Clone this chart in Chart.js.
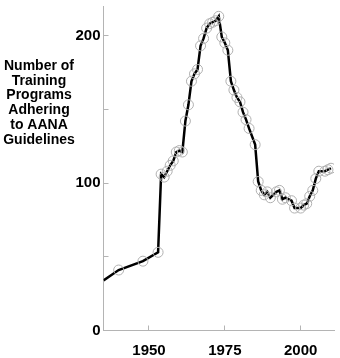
<!DOCTYPE html>
<html>
<head>
<meta charset="utf-8">
<script src="https://cdn.jsdelivr.net/npm/chart.js@4"></script>
<style>
  html, body { margin: 0; padding: 0; background: #fff; }
  #wrap { position: relative; width: 340px; height: 358px; }
</style>
</head>
<body>
<div id="wrap"><canvas id="programsChart" width="340" height="358"></canvas></div>
<script>
// years and number of programs
const years = [1935, 1940, 1948, 1953, 1954, 1955, 1956, 1957, 1958, 1959, 1960, 1961, 1962, 1963,
  1964, 1965, 1966, 1967, 1968, 1969, 1970, 1971, 1972, 1973, 1974, 1975, 1976, 1977, 1978, 1979,
  1980, 1981, 1982, 1983, 1985, 1986, 1987, 1988, 1989, 1990, 1992, 1993, 1994, 1995, 1997, 1998,
  2000, 2001, 2002, 2003, 2004, 2005, 2006, 2008, 2009, 2010];
const programs = [34, 41, 47, 53, 106, 104, 108, 112, 115, 121, 122, 121, 142, 153,
  169, 174, 177, 193, 198, 205, 208, 209, 210, 213, 199, 195, 190, 169, 163, 158,
  155, 148, 143, 137, 126, 101, 95, 92, 94, 90, 94, 95, 89, 90, 88, 83,
  83, 85, 86, 91, 95, 103, 108, 108, 109, 110];
const xTicks = [1950, 1975, 2000];
const yTicks = [0, 50, 100, 150, 200];
const yLabeled = [0, 100, 200];
const titleLines = ['Number of', 'Training', 'Programs', 'Adhering', 'to AANA', 'Guidelines'];

const axisGray = '#b4b4b4';

const sideTitle = {
  id: 'sideTitle',
  afterDraw(chart) {
    const ctx = chart.ctx;
    ctx.save();
    ctx.font = 'bold 14px "Liberation Sans", Arial, sans-serif';
    ctx.fillStyle = '#000';
    ctx.textAlign = 'center';
    ctx.textBaseline = 'middle';
    titleLines.forEach((t, i) => ctx.fillText(t, 39, 66 + i * 14.8));
    ctx.restore();
  }
};

new Chart(document.getElementById('programsChart'), {
  type: 'line',
  data: {
    datasets: [{
      data: years.map((y, i) => ({ x: y, y: programs[i] })),
      borderColor: '#000',
      borderWidth: 2.5,
      tension: 0,
      pointRadius: ctx => ctx.dataIndex === 0 ? 0 : 5,
      pointBorderColor: '#b0b0b0',
      pointBorderWidth: 1,
      pointBackgroundColor: 'rgba(0,0,0,0)'
    }]
  },
  options: {
    responsive: false,
    animation: false,
    layout: { padding: { top: 0, right: 4, left: 0, bottom: 0 } },
    plugins: { legend: { display: false }, tooltip: { enabled: false } },
    scales: {
      x: {
        type: 'linear',
        min: 1935,
        max: 2011,
        afterBuildTicks: s => { s.ticks = xTicks.map(v => ({ value: v })); },
        afterFit: s => { s.height = 27.5; s.paddingLeft = 0; s.paddingRight = 0; },
        border: { color: axisGray, width: 1 },
        grid: { drawOnChartArea: false, drawTicks: true, tickLength: -5, color: axisGray },
        ticks: {
          padding: 16,
          color: '#000',
          font: { family: '"Liberation Sans", Arial, sans-serif', size: 15, weight: 'bold' },
          callback: v => String(v)
        }
      },
      y: {
        min: 0,
        max: 220,
        afterBuildTicks: s => { s.ticks = yTicks.map(v => ({ value: v })); },
        afterFit: s => { s.width = 103.5; s.paddingTop = 0; s.paddingBottom = 0; },
        border: { color: axisGray, width: 1 },
        grid: { drawOnChartArea: false, drawTicks: true, tickLength: -5, color: axisGray },
        ticks: {
          padding: 8,
          color: '#000',
          font: { family: '"Liberation Sans", Arial, sans-serif', size: 15, weight: 'bold' },
          callback: v => yLabeled.includes(v) ? String(v) : ''
        }
      }
    }
  },
  plugins: [sideTitle]
});
</script>
</body>
</html>
